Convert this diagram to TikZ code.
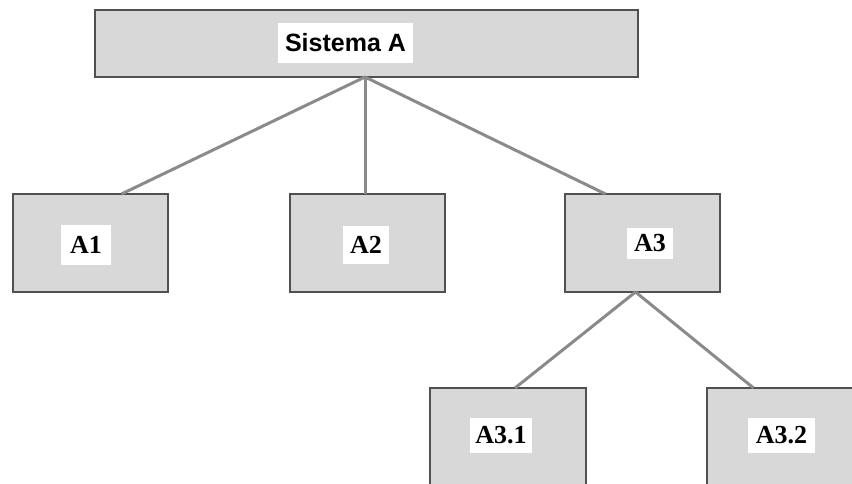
\documentclass[tikz,border=0pt]{standalone}
\usepackage{fontspec}
\setmainfont{Liberation Serif}
\newfontfamily\headfont{Liberation Sans}
\definecolor{boxfill}{RGB}{216,216,216}
\definecolor{boxline}{RGB}{80,80,80}
\definecolor{linkline}{RGB}{138,138,138}
\begin{document}
\begin{tikzpicture}[x=1pt,y=-1pt,
  unitbox/.style={draw=boxline,line width=1.8pt,fill=boxfill,inner sep=0pt,outer sep=0pt,
    minimum width=155pt,minimum height=98pt},
  tag/.style={fill=white,inner sep=0pt,font=\bfseries\fontsize{26}{26}\selectfont},
  link/.style={draw=linkline,line width=3pt}]
\useasboundingbox (0,0) rectangle (852,484);
\clip (0,0) rectangle (852,484);

% boxes
\node[unitbox,minimum width=543pt,minimum height=67pt] (sys) at (366.5,43.5) {};
\node[unitbox] (a1) at (90.5,243) {};
\node[unitbox] (a2) at (367.5,243) {};
\node[unitbox] (a3) at (642.5,243) {};
\node[unitbox,minimum width=156pt] (a31) at (508,437) {};
\node[unitbox] (a32) at (784.5,437) {};

% attachment points of the connectors
\coordinate (s0) at ([xshift=-1.5pt]sys.south);
\coordinate (t1) at ([xshift=31pt]a1.north);
\coordinate (t2) at ([xshift=-2.5pt]a2.north);
\coordinate (t3) at ([xshift=-37pt]a3.north);
\coordinate (b3) at ([xshift=-7pt]a3.south);
\coordinate (t31) at ([xshift=7pt]a31.north);
\coordinate (t32) at ([xshift=-31pt]a32.north);

\draw[link] (s0) -- (t1);
\draw[link] (s0) -- (t2);
\draw[link] (s0) -- (t3);
\draw[link] (b3) -- (t31);
\draw[link] (b3) -- (t32);

% labels
\node[tag,minimum width=135pt,minimum height=40pt,font=\headfont\bfseries\fontsize{25}{25}\selectfont] (lsys) at (345.5,43) {Sistema A};
\node[tag,minimum width=50pt,minimum height=40pt] (l1) at (86,245) {A1};
\node[tag,minimum width=46pt,minimum height=38pt] (l2) at (366,245) {A2};
\node[tag,minimum width=46pt,minimum height=31pt] (l3) at (650,243.5) {A3};
\node[tag,minimum width=62pt,minimum height=35pt] (l31) at (501,435.5) {A3.1};
\node[tag,minimum width=67pt,minimum height=35pt] (l32) at (781.5,435.5) {A3.2};
\end{tikzpicture}
\end{document}
